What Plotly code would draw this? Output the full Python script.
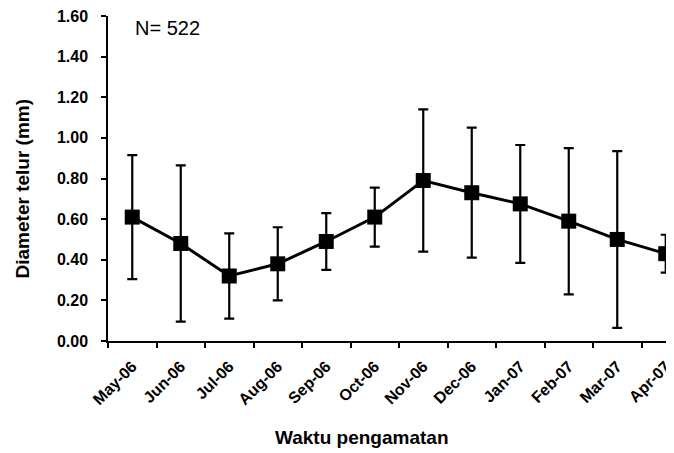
import plotly.graph_objects as go

months = ["May-06", "Jun-06", "Jul-06", "Aug-06", "Sep-06", "Oct-06",
          "Nov-06", "Dec-06", "Jan-07", "Feb-07", "Mar-07", "Apr-07"]
mean_diameter = [0.61, 0.48, 0.32, 0.38, 0.49, 0.61, 0.79, 0.73, 0.675, 0.59, 0.50, 0.43]
error_sd = [0.305, 0.385, 0.21, 0.18, 0.14, 0.145, 0.35, 0.32, 0.29, 0.36, 0.435, 0.093]
y_ticks = [0.0, 0.2, 0.4, 0.6, 0.8, 1.0, 1.2, 1.4, 1.6]

# page body has an 8px margin; the figure is sized so the plot area lands
# where the reference has it in the 674x453 window
OFF = 8
W, H = 674 - OFF, 453 - OFF
L, R, T, B = 108 - OFF, 0, 15.5 - OFF, 111.5
pw, ph = W - L - R, H - T - B

def px_x(px):
    return (px - OFF - L) / pw

def px_y(py):
    return (H - B - (py - OFF)) / ph

fig = go.Figure()
fig.add_trace(go.Scatter(
    x=months, y=mean_diameter,
    mode="lines+markers",
    line=dict(color="black", width=3),
    marker=dict(symbol="square", size=15, color="black"),
    error_y=dict(type="data", array=error_sd, visible=True,
                 color="black", thickness=2.2, width=5),
    cliponaxis=False,
    showlegend=False,
))

font_family = "Liberation Sans, Arial, sans-serif"

fig.update_layout(
    width=W, height=H,
    margin=dict(l=L, r=R, t=T, b=B),
    plot_bgcolor="white", paper_bgcolor="white",
    xaxis=dict(
        type="category",
        range=[-0.5, 11.17],
        showgrid=False, zeroline=False,
        showline=True, linecolor="black", linewidth=1.5,
        ticks="outside", ticklen=5, tickwidth=1.5, tickcolor="black",
        tickson="boundaries",
        tickangle=-45,
        ticklabelstandoff=8,
        ticklabeloverflow="allow",
        tickfont=dict(family=font_family, size=16, color="black", weight="bold"),
    ),
    yaxis=dict(
        range=[0, 1.6],
        tickvals=y_ticks,
        tickformat=".2f",
        showgrid=False, zeroline=False,
        showline=True, linecolor="black", linewidth=1.5,
        ticks="outside", ticklen=5, tickwidth=1.5, tickcolor="black",
        ticklabelstandoff=10,
        ticklabeloverflow="allow",
        tickfont=dict(family=font_family, size=16, color="black", weight="bold"),
    ),
    annotations=[
        dict(text="Diameter telur (mm)", xref="paper", yref="paper",
             x=px_x(22), y=px_y(188.5), xanchor="center", yanchor="middle",
             textangle=-90, showarrow=False,
             font=dict(family=font_family, size=19, color="black", weight="bold")),
        dict(text="Waktu pengamatan", xref="paper", yref="paper",
             x=px_x(362), y=px_y(438), xanchor="center", yanchor="middle",
             showarrow=False,
             font=dict(family=font_family, size=19, color="black", weight="bold")),
        dict(text="N= 522", xref="paper", yref="paper",
             x=px_x(133), y=px_y(28), xanchor="left", yanchor="middle",
             showarrow=False,
             font=dict(family=font_family, size=20, color="black")),
    ],
)

fig.write_html("out.html")
